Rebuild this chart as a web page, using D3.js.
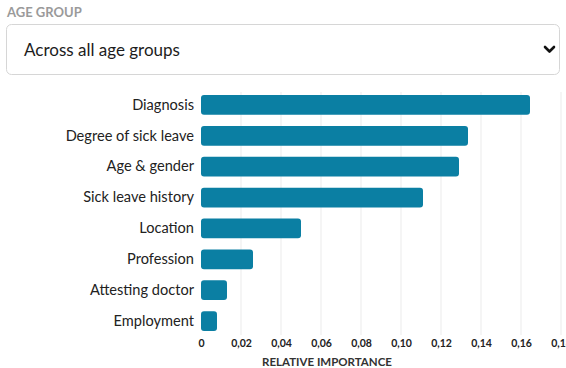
<!DOCTYPE html>
<html><head><meta charset="utf-8">
<script src="https://cdn.jsdelivr.net/npm/d3@7"></script>
<style>
html,body{margin:0;padding:0;background:#fff;}
svg{display:block;font-family:Lato,sans-serif;}
svg text{font-family:Lato,sans-serif;}
</style></head><body>
<svg id="c" width="566" height="368"></svg>
<script>
const categories = ["Diagnosis","Degree of sick leave","Age & gender","Sick leave history","Location","Profession","Attesting doctor","Employment"];
const values = [0.1645,0.1335,0.129,0.111,0.050,0.026,0.013,0.008];
const tickValues = [0,0.02,0.04,0.06,0.08,0.10,0.12,0.14,0.16,0.18];
const tickLabels = ["0","0,02","0,04","0,06","0,08","0,10","0,12","0,14","0,16","0,18"];
const headerText = "AGE GROUP";
const selectText = "Across all age groups";
const axisTitle = "RELATIVE IMPORTANCE";

const svg = d3.select("#c");

// header
svg.append("text").attr("x",7).attr("y",17).attr("font-size",13).attr("font-weight",700)
  .attr("fill","#9a9a9a").text(headerText);
svg.append("rect").attr("x",6.5).attr("y",24.5).attr("width",553).attr("height",50).attr("rx",5)
  .attr("fill","#fff").attr("stroke","#d6d6d6");
svg.append("text").attr("x",24).attr("y",56).attr("font-size",17).attr("fill","#1c1c1c").text(selectText);
svg.append("path").attr("d","M545,47 L549.5,51.5 L554,47").attr("fill","none").attr("stroke","#111")
  .attr("stroke-width",2.6).attr("stroke-linecap","round").attr("stroke-linejoin","round");

// chart
const x = d3.scaleLinear().domain([0,0.18]).range([201,561]);
const y = d3.scaleBand().domain(categories).range([89.5,336.5]).paddingInner(0.36).paddingOuter(0.18);

const grid = svg.append("g");
grid.selectAll("line").data(tickValues.slice(1)).join("line")
  .attr("x1",d=>x(d)).attr("x2",d=>x(d)).attr("y1",92).attr("y2",335)
  .attr("stroke","#ebebeb").attr("stroke-width",1);

svg.append("g").selectAll("rect").data(categories).join("rect")
  .attr("x",x(0)).attr("y",d=>y(d)).attr("height",y.bandwidth())
  .attr("width",(d,i)=>x(values[i])-x(0)).attr("rx",3).attr("fill","#0b7fa3");

const yAxis = svg.append("g").attr("transform",`translate(${x(0)},0)`)
  .call(d3.axisLeft(y).tickSize(0).tickPadding(7));
yAxis.attr("font-family",null);
yAxis.select(".domain").remove();
yAxis.selectAll("text").attr("font-size",14.6).attr("fill","#222");

const xAxis = svg.append("g").attr("transform","translate(0,335)")
  .call(d3.axisBottom(x).tickValues(tickValues).tickFormat((d,i)=>tickLabels[i]).tickSize(0).tickPadding(5));
xAxis.attr("font-family",null);
xAxis.select(".domain").remove();
xAxis.selectAll("text").attr("font-size",10.5).attr("font-weight",700).attr("fill","#222");

svg.append("text").attr("x",327).attr("y",366).attr("text-anchor","middle").attr("font-size",11.5)
  .attr("font-weight",700).attr("fill","#333").text(axisTitle);
</script>
</body></html>
